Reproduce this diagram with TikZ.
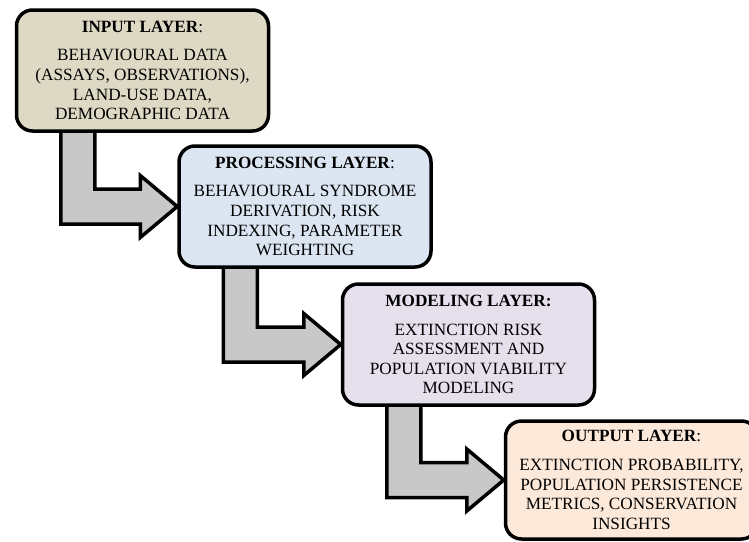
\documentclass[tikz,border=0pt]{standalone}
\usepackage{fontspec}
\setmainfont{Liberation Serif}
\usepackage{tikz}
\usetikzlibrary{calc,backgrounds}

\definecolor{inputtan}{HTML}{DDD9C4}
\definecolor{procblue}{HTML}{DCE6F2}
\definecolor{modellilac}{HTML}{E5E0EC}
\definecolor{outpeach}{HTML}{FDE9D9}
\definecolor{flowgray}{HTML}{C8C8C8}

\tikzset{
  layer/.style={draw, line width=3.5pt, rounded corners=16pt, inner sep=0pt,
    minimum width=252pt, minimum height=121pt, align=center,
    font=\fontsize{17.2}{19.6}\selectfont},
  flow/.style={draw, fill=flowgray, line width=3.5pt, line join=miter}
}

\begin{document}
\begin{tikzpicture}[x=1pt, y=-1pt]
\useasboundingbox (0,0) rectangle (749,541);
\clip (0,0) rectangle (749,541);
\node[layer, fill=inputtan] (in) at (142.5,70.5)
  {\textbf{INPUT LAYER}:\\[9pt]BEHAVIOURAL DATA\\(ASSAYS, OBSERVATIONS),\\LAND-USE DATA,\\DEMOGRAPHIC DATA};
\node[layer, fill=procblue] (proc) at (305,206.5)
  {\textbf{PROCESSING LAYER}:\\[9pt]BEHAVIOURAL SYNDROME\\DERIVATION, RISK\\INDEXING, PARAMETER\\WEIGHTING};
\node[layer, fill=modellilac] (model) at (468.5,344.5)
  {\textbf{MODELING LAYER:}\\[9pt]EXTINCTION RISK\\ASSESSMENT AND\\POPULATION VIABILITY\\MODELING};
\node[layer, fill=outpeach, minimum height=118pt] (out) at (631.5,480)
  {\textbf{OUTPUT LAYER}:\\[9pt]EXTINCTION PROBABILITY,\\POPULATION PERSISTENCE\\METRICS, CONSERVATION\\INSIGHTS};
\begin{scope}[on background layer]
\foreach \a/\b in {in/proc, proc/model, model/out}
  \draw[flow] let \p1=(\a.west), \p2=(\a.south), \p3=(\b.west) in
    (\x1+46pt,\y2+3pt) -- (\x1+46pt,\y3-17.5pt) -- (\x3-37pt,\y3-17.5pt)
    -- (\x3-37pt,\y3-31pt) -- (\p3) -- (\x3-37pt,\y3+31pt)
    -- (\x3-37pt,\y3+17.5pt) -- (\x1+80pt,\y3+17.5pt) -- (\x1+80pt,\y2+3pt) -- cycle;
\end{scope}
\end{tikzpicture}
\end{document}
